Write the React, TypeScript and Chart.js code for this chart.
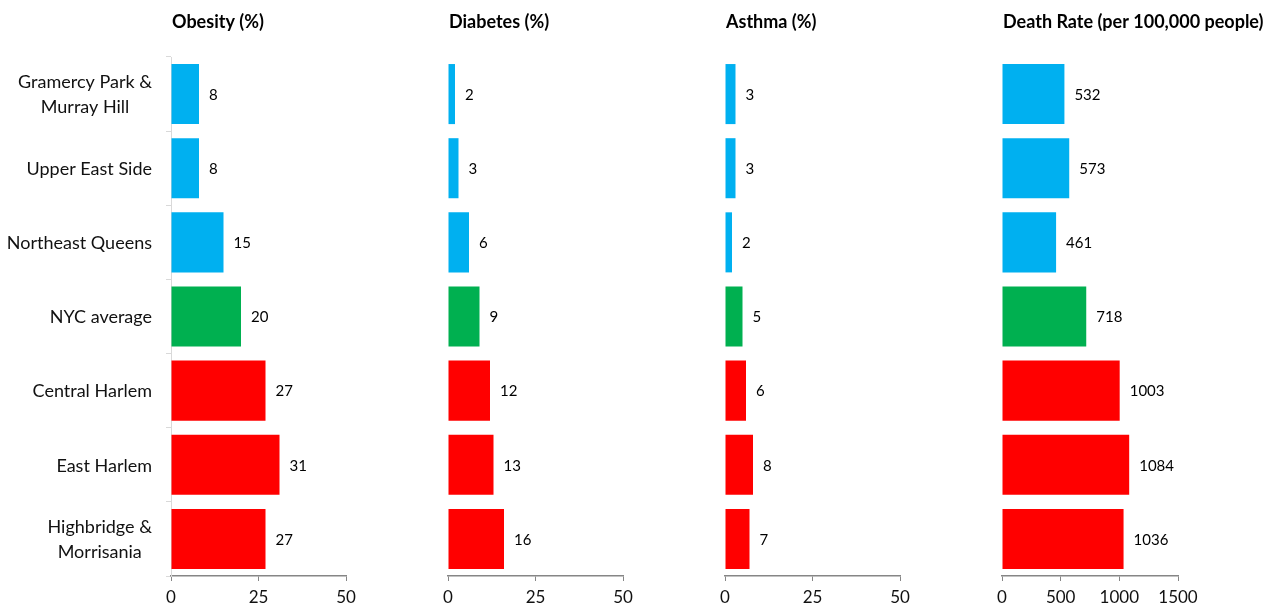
import React, { useEffect, useRef } from "react";
import { Chart, registerables } from "chart.js";
Chart.register(...registerables);

const categories: string[][] = [
  ["Gramercy Park &", "Murray Hill"],
  ["Upper East Side"],
  ["Northeast Queens"],
  ["NYC average"],
  ["Central Harlem"],
  ["East Harlem"],
  ["Highbridge &", "Morrisania"],
];
const obesity = [8, 8, 15, 20, 27, 31, 27];
const diabetes = [2, 3, 6, 9, 12, 13, 16];
const asthma = [3, 3, 2, 5, 6, 8, 7];
const deathRate = [532, 573, 461, 718, 1003, 1084, 1036];
const titles = ["Obesity (%)", "Diabetes (%)", "Asthma (%)", "Death Rate (per 100,000 people)"];
const axisMax = [50, 50, 50, 1500];
const axisStep = [25, 25, 25, 500];
const seriesList = [obesity, diabetes, asthma, deathRate];

const BLUE = "#00B0F0";
const GREEN = "#00B050";
const RED = "#FF0000";
const barColors = [BLUE, BLUE, BLUE, GREEN, RED, RED, RED];

const W = 1275;
const H = 611;
const areaLeft = [171, 448, 725, 1002];
const areaRight = [346, 623, 900, 1178];
const areaTop = 57;
const FONT = "Lato, 'Open Sans', sans-serif";

function makePlugin(idx: number) {
  return {
    id: "custom" + idx,
    afterDatasetsDraw(chart: any) {
      const ctx = chart.ctx;
      const area = chart.chartArea;
      ctx.save();
      // title
      ctx.fillStyle = "#000";
      ctx.font = `bold 18px ${FONT}`;
      ctx.textAlign = "left";
      ctx.textBaseline = "middle";
      ctx.fillText(titles[idx], area.left + 1, 22);
      // value labels
      const meta = chart.getDatasetMeta(0);
      const data = chart.data.datasets[0].data;
      ctx.font = `15px ${FONT}`;
      meta.data.forEach((bar: any, i: number) => {
        ctx.fillText(String(data[i]), bar.x + 10, bar.y + 1);
      });
      // category labels
      if (idx === 0) {
        const yScale = chart.scales.y;
        ctx.font = `18px ${FONT}`;
        ctx.fillStyle = "#111";
        ctx.textAlign = "center";
        const rightEdge = area.left - 19;
        const lh = 25;
        categories.forEach((lines, i) => {
          const widest = Math.max(...lines.map((l) => ctx.measureText(l).width));
          const cx = rightEdge - widest / 2;
          const cy = yScale.getPixelForValue(i);
          lines.forEach((l, j) => {
            const y = cy + (j - (lines.length - 1) / 2) * lh + 1;
            ctx.fillText(l, cx, y);
          });
        });
      }
      ctx.restore();
    },
  };
}

function Panel({ idx }: { idx: number }) {
  const ref = useRef<HTMLCanvasElement>(null);
  useEffect(() => {
    if (!ref.current) return;
    const yScale: any = {
      display: idx === 0,
      ticks: { display: false },
      grid: { drawOnChartArea: false, drawTicks: true, tickLength: 5, color: "#d9d9d9", offset: true },
      border: { color: "#d9d9d9" },
    };
    if (idx === 0) {
      yScale.afterFit = (s: any) => {
        s.width = areaLeft[0];
      };
    }
    const chart = new Chart(ref.current, {
      type: "bar",
      data: {
        labels: categories.map((c) => c.join(" ")),
        datasets: [
          {
            data: seriesList[idx],
            backgroundColor: barColors,
            barPercentage: 0.81,
            categoryPercentage: 1,
          },
        ],
      },
      options: {
        animation: false,
        responsive: false,
        maintainAspectRatio: false,
        indexAxis: "y",
        layout: {
          padding: {
            left: idx === 0 ? 0 : areaLeft[idx],
            right: W - areaRight[idx],
            top: areaTop,
            bottom: 0,
          },
        },
        plugins: { legend: { display: false }, tooltip: { enabled: false }, title: { display: false } },
        scales: {
          x: {
            min: 0,
            max: axisMax[idx],
            ticks: {
              stepSize: axisStep[idx],
              font: { family: FONT, size: 17 },
              color: "#111",
              padding: 6,
              maxRotation: 0,
              minRotation: 0,
              callback: (v: any) => String(v),
            },
            grid: { drawOnChartArea: false, drawTicks: true, tickLength: 5, color: "#868686" },
            border: { color: "#868686", width: 1.5 },
            afterFit: (s: any) => {
              s.height = 35;
            },
          },
          y: yScale,
        },
      },
      plugins: [makePlugin(idx)],
    } as any);
    return () => chart.destroy();
  }, [idx]);
  return (
    <canvas
      ref={ref}
      width={W}
      height={H}
      style={{ position: "absolute", left: 0, top: 0, width: W, height: H }}
    />
  );
}

export default function App() {
  return (
    <div style={{ position: "fixed", left: 0, top: 0, width: W, height: H, background: "#fff", overflow: "hidden" }}>
      {[0, 1, 2, 3].map((i) => (
        <Panel key={i} idx={i} />
      ))}
    </div>
  );
}
